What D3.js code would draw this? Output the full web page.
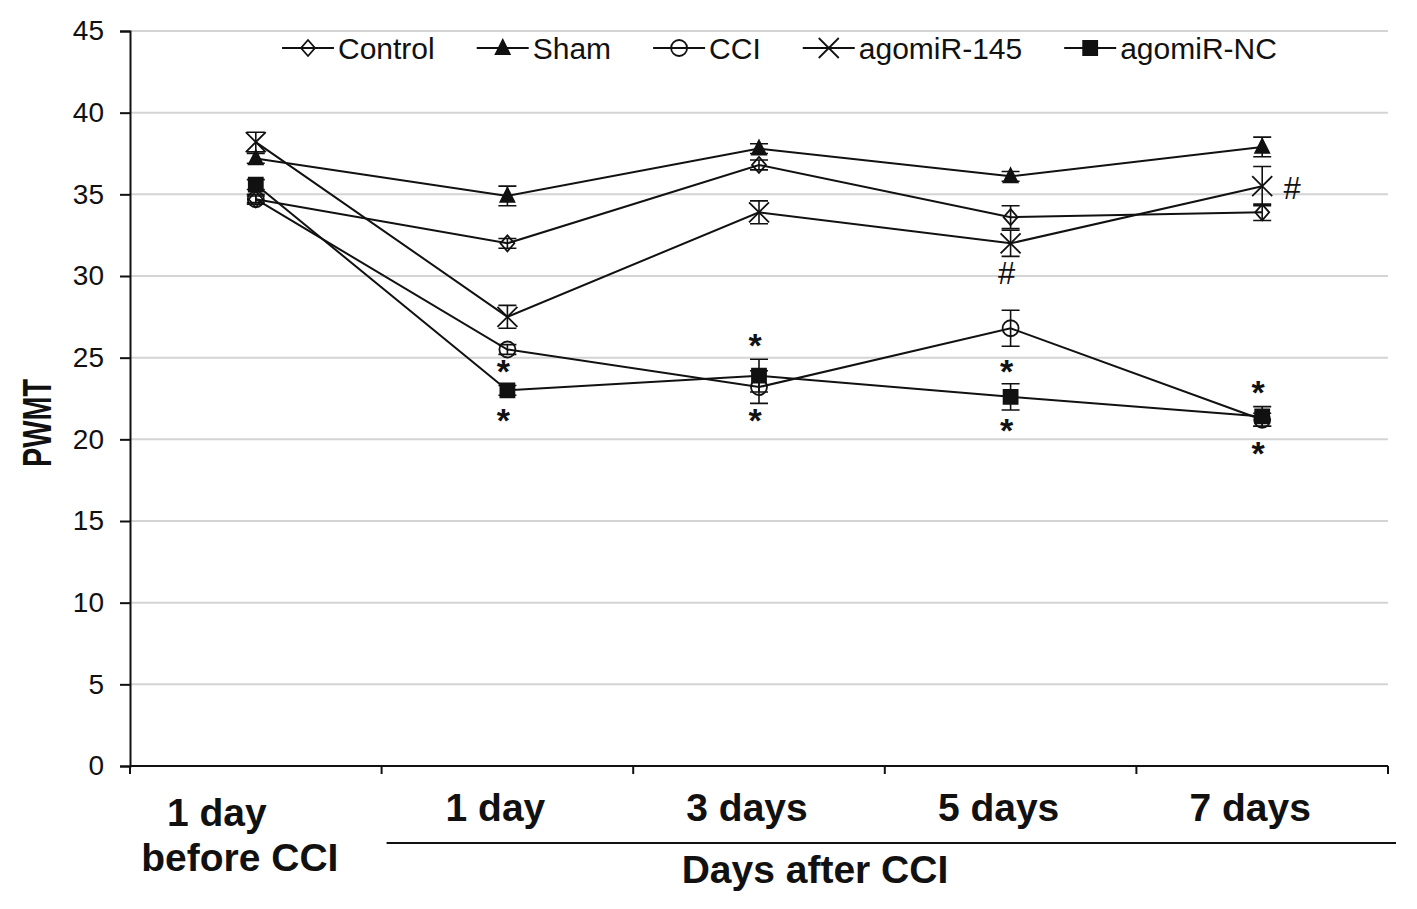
<!DOCTYPE html>
<html>
<head>
<meta charset="utf-8">
<script src="https://cdn.jsdelivr.net/npm/d3@7"></script>
<style>
  body { margin: 0; background: #fff; }
  text { font-family: "Liberation Sans", Arial, sans-serif; fill: #111; }
</style>
</head>
<body>
<div id="chart"></div>
<script>
// Time points and PWMT values (mean, error)
const categories = ['before', 'd1', 'd3', 'd5', 'd7'];
const seriesNames = ['Control', 'Sham', 'CCI', 'agomiR-145', 'agomiR-NC'];

const controlValues = [34.7, 32.0, 36.8, 33.6, 33.9];
const controlErrors = [0.2, 0.3, 0.3, 0.7, 0.5];
const shamValues = [37.2, 34.9, 37.8, 36.1, 37.9];
const shamErrors = [0.3, 0.6, 0.3, 0.3, 0.6];
const cciValues = [34.7, 25.5, 23.2, 26.8, 21.2];
const cciErrors = [0.3, 0.3, 1.0, 1.1, 0.4];
const agomir145Values = [38.2, 27.5, 33.9, 32.0, 35.5];
const agomir145Errors = [0.6, 0.7, 0.7, 0.8, 1.2];
const agomirNCValues = [35.6, 23.0, 23.9, 22.6, 21.4];
const agomirNCErrors = [0.3, 0.3, 1.0, 0.8, 0.6];

const yTicks = [0, 5, 10, 15, 20, 25, 30, 35, 40, 45];

// significance marks: time point, value where the mark sits, symbol
const markCategories = ['d1', 'd1', 'd3', 'd3', 'd5', 'd5', 'd5', 'd7', 'd7', 'd7'];
const markValues = [24.5, 21.5, 26.1, 21.5, 30.2, 24.5, 20.9, 35.4, 23.2, 19.5];
const markSymbols = ['*', '*', '*', '*', '#', '*', '*', '#', '*', '*'];

const series = [
    {name: seriesNames[0], values: controlValues, errors: controlErrors, shape: 'diamond'},
    {name: seriesNames[1], values: shamValues, errors: shamErrors, shape: 'triangle'},
    {name: seriesNames[2], values: cciValues, errors: cciErrors, shape: 'circle'},
    {name: seriesNames[3], values: agomir145Values, errors: agomir145Errors, shape: 'cross'},
    {name: seriesNames[4], values: agomirNCValues, errors: agomirNCErrors, shape: 'square'}
];

const width = 1417, height = 909;
const margin = {top: 31, right: 29, bottom: 143, left: 130};

const svg = d3.select('#chart').append('svg')
    .attr('width', width)
    .attr('height', height);

const x = d3.scaleBand().domain(categories).range([margin.left, width - margin.right]);
const y = d3.scaleLinear().domain([0, 45]).range([height - margin.bottom, margin.top]);
const cx = c => x(c) + x.bandwidth() / 2;

// gridlines
svg.append('g')
    .selectAll('line')
    .data(yTicks.filter(d => d > 0))
    .join('line')
    .attr('x1', margin.left)
    .attr('x2', width - margin.right)
    .attr('y1', d => y(d))
    .attr('y2', d => y(d))
    .attr('stroke', '#d4d4d4')
    .attr('stroke-width', 2);

// y axis
const yAxisG = svg.append('g')
    .attr('transform', `translate(${margin.left},0)`)
    .call(d3.axisLeft(y).tickValues(yTicks).tickSize(10).tickPadding(16));
yAxisG.select('.domain').attr('stroke', '#111').attr('stroke-width', 2);
yAxisG.selectAll('.tick line').attr('stroke', '#111').attr('stroke-width', 2);
yAxisG.selectAll('.tick text')
    .style('font-family', '"Liberation Sans", Arial, sans-serif')
    .style('font-size', '28px')
    .attr('fill', '#222');

// x axis: line with ticks on band boundaries
const xAxisG = svg.append('g');
xAxisG.append('line')
    .attr('x1', margin.left).attr('x2', width - margin.right)
    .attr('y1', y(0)).attr('y2', y(0))
    .attr('stroke', '#111').attr('stroke-width', 2);
const boundaries = categories.map(c => x(c)).concat([x(categories[categories.length - 1]) + x.bandwidth()]);
xAxisG.selectAll('.xtick')
    .data(boundaries)
    .join('line')
    .attr('class', 'xtick')
    .attr('x1', d => d).attr('x2', d => d)
    .attr('y1', y(0)).attr('y2', y(0) + 8)
    .attr('stroke', '#111').attr('stroke-width', 2);

// x labels
const labelFont = '39px';
const after = [
    {cat: 'd1', text: '1 day'},
    {cat: 'd3', text: '3 days'},
    {cat: 'd5', text: '5 days'},
    {cat: 'd7', text: '7 days'}
];
svg.append('g')
    .selectAll('text')
    .data(after)
    .join('text')
    .attr('x', d => cx(d.cat) - 12)
    .attr('y', 821)
    .attr('text-anchor', 'middle')
    .style('font-size', labelFont)
    .style('font-weight', 'bold')
    .text(d => d.text);

svg.append('text')
    .attr('x', cx('before') - 39)
    .attr('y', 826)
    .attr('text-anchor', 'middle')
    .style('font-size', labelFont)
    .style('font-weight', 'bold')
    .text('1 day');
svg.append('text')
    .attr('x', cx('before') - 16)
    .attr('y', 871)
    .attr('text-anchor', 'middle')
    .style('font-size', labelFont)
    .style('font-weight', 'bold')
    .text('before CCI');

svg.append('line')
    .attr('x1', x('d1') + 5).attr('x2', width - 21)
    .attr('y1', 843).attr('y2', 843)
    .attr('stroke', '#111').attr('stroke-width', 2);
svg.append('text')
    .attr('x', 815)
    .attr('y', 883)
    .attr('text-anchor', 'middle')
    .style('font-size', labelFont)
    .style('font-weight', 'bold')
    .text('Days after CCI');

// y title
svg.append('text')
    .attr('transform', 'translate(51,423) rotate(-90)')
    .attr('text-anchor', 'middle')
    .attr('textLength', 88)
    .attr('lengthAdjust', 'spacingAndGlyphs')
    .style('font-size', '40px')
    .style('font-weight', 'bold')
    .text('PWMT');

// marker shapes
const shapePath = {
    diamond: 'M0,-8L7,0L0,8L-7,0Z',
    triangle: 'M0,-8L7,6L-7,6Z',
    circle: 'M8,0A8,8 0 1,1 -8,0A8,8 0 1,1 8,0Z',
    cross: 'M-10,-10L10,10M-10,10L10,-10',
    square: 'M-7,-7H7V7H-7Z'
};
const shapeFill = {diamond: 'none', triangle: '#111', circle: 'none', cross: 'none', square: '#111'};

const line = d3.line()
    .x((d, i) => cx(categories[i]))
    .y(d => y(d));

const plot = svg.append('g');

series.forEach(s => {
    plot.append('path')
        .datum(s.values)
        .attr('fill', 'none')
        .attr('stroke', '#111')
        .attr('stroke-width', 2)
        .attr('d', line);
});

series.forEach(s => {
    const g = plot.append('g');
    const pts = s.values.map((v, i) => ({cat: categories[i], v: v, e: s.errors[i]}));
    // error bars
    g.selectAll('.err')
        .data(pts)
        .join('path')
        .attr('class', 'err')
        .attr('fill', 'none')
        .attr('stroke', '#111')
        .attr('stroke-width', 1.6)
        .attr('d', d => {
            const px = cx(d.cat), top = y(d.v + d.e), bot = y(d.v - d.e);
            return `M${px},${top}V${bot}M${px - 9},${top}H${px + 9}M${px - 9},${bot}H${px + 9}`;
        });
    // markers
    g.selectAll('.pt')
        .data(pts)
        .join('path')
        .attr('class', 'pt')
        .attr('transform', d => `translate(${cx(d.cat)},${y(d.v)})`)
        .attr('d', shapePath[s.shape])
        .attr('fill', shapeFill[s.shape])
        .attr('stroke', '#111')
        .attr('stroke-width', 1.8);
});

// significance marks
const marks = markValues.map((v, i) => ({cat: markCategories[i], v: v, sym: markSymbols[i]}));
svg.append('g')
    .selectAll('text')
    .data(marks)
    .join('text')
    .attr('x', d => {
        if (d.sym === '#' && d.cat === 'd7') return cx(d.cat) + 30;
        return cx(d.cat) - 4;
    })
    .attr('y', d => y(d.v) + (d.sym === '*' ? 17 : 11))
    .attr('text-anchor', 'middle')
    .style('font-size', d => d.sym === '*' ? '34px' : '31px')
    .style('font-weight', 'normal')
    .style('font-weight', d => d.sym === '*' ? 'bold' : 'normal')
    .text(d => d.sym);

// legend
const legend = svg.append('g').attr('transform', 'translate(282,48)');
let lx = 0;
series.forEach(s => {
    const item = legend.append('g').attr('transform', `translate(${lx},0)`);
    item.append('line')
        .attr('x1', 0).attr('x2', 52)
        .attr('stroke', '#111').attr('stroke-width', 2);
    item.append('path')
        .attr('transform', 'translate(26,0)')
        .attr('d', shapePath[s.shape])
        .attr('fill', shapeFill[s.shape])
        .attr('stroke', '#111')
        .attr('stroke-width', 1.8);
    const t = item.append('text')
        .attr('x', 56)
        .attr('y', 11)
        .style('font-size', '30px')
        .text(s.name);
    lx += 56 + t.node().getComputedTextLength() + 42;
});
</script>
</body>
</html>
